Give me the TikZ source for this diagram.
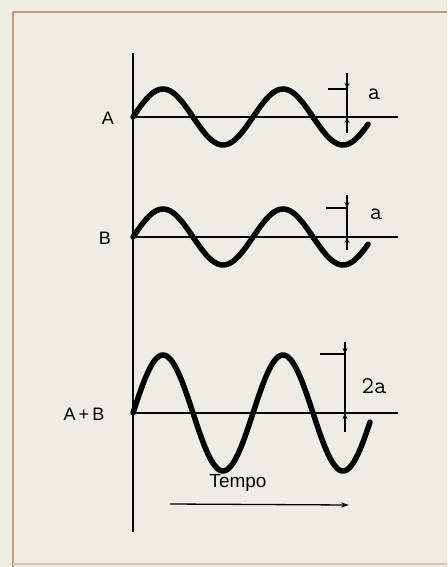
\documentclass[tikz,border=0pt]{standalone}
\usepackage{fontspec}
\setmainfont{Liberation Sans}
\usetikzlibrary{arrows.meta}
\definecolor{paper}{RGB}{238,237,229}
\definecolor{frame}{RGB}{204,152,112}
\begin{document}
\begin{tikzpicture}
        [x=1pt,y=-1pt,
        wave/.style={line width=5.5pt,line cap=round},
        axis/.style={line width=1.5pt},
        dimline/.style={line width=1.3pt},
        dimtip/.style={-{Stealth[length=6pt,width=5pt]},line width=1.3pt},
        every node/.style={inner sep=0pt},
        lbl/.style={font=\fontsize{18}{18}\selectfont},
        dimlbl/.style={font=\ttfamily\fontsize{24}{24}\selectfont}]
        \fill[paper] (0,0) rectangle (447,567);
        \useasboundingbox (0,0) rectangle (447,567);
        % frame
        \draw[frame,line width=2.5pt] (447,12) -- (13,12) -- (13,567);
        \draw[frame!60,line width=1.2pt] (13,564) -- (447,564);
        % vertical axis
        \coordinate (top) at (133,53);
        \coordinate (bot) at (133,532);
        \draw[axis] (top) -- (bot);
        % baselines
        \coordinate (a0) at (133,117);
        \coordinate (a1) at (398,117);
        \coordinate (b0) at (133,237);
        \coordinate (b1) at (398,237);
        \coordinate (s0) at (133,413);
        \coordinate (s1) at (398,413);
        \draw[axis] (a0) -- (a1);
        \draw[axis] (b0) -- (b1);
        \draw[axis] (s0) -- (s1);
        % waves
        \draw[wave] plot[domain=133:368,samples=120] (\x,{117-28*sin(3*(\x-133))});
        \draw[wave] plot[domain=133:368,samples=120] (\x,{237-28*sin(3*(\x-133))});
        \draw[wave] plot[domain=133:370,samples=120] (\x,{413-58*sin(3*(\x-133))});
        % labels
        \node[lbl] (la) at (108,118) {A};
        \node[lbl] (lb) at (105,238) {B};
        \node[lbl] (ls) at (84,414) {A\,+\,B};
        % amplitude A
        \coordinate (da0) at (347,73);
        \coordinate (da1) at (347,89);
        \coordinate (da2) at (347,117);
        \coordinate (da3) at (347,133);
        \coordinate (ta) at (328,89);
        \draw[dimline] (da0) -- (da3);
        \draw[dimline] (ta) -- (da1);
        \draw[dimtip] (da0) -- (da1);
        \draw[dimtip] (da3) -- (da2);
        \node[dimlbl] (na) at (374,94) {a};
        % amplitude B
        \coordinate (db0) at (347,195);
        \coordinate (db1) at (347,208);
        \coordinate (db2) at (347,237);
        \coordinate (db3) at (347,250);
        \coordinate (tb) at (326,208);
        \draw[dimline] (db0) -- (db3);
        \draw[dimline] (tb) -- (db1);
        \draw[dimtip] (db0) -- (db1);
        \draw[dimtip] (db3) -- (db2);
        \node[dimlbl] (nb) at (376,214) {a};
        % amplitude A+B
        \coordinate (ds0) at (345,342);
        \coordinate (ds1) at (345,354);
        \coordinate (ds2) at (345,413);
        \coordinate (ds3) at (345,432);
        \coordinate (ts) at (320,354);
        \draw[dimline] (ds0) -- (ds3);
        \draw[dimline] (ts) -- (ds1);
        \draw[dimtip] (ds0) -- (ds1);
        \draw[dimtip] (ds3) -- (ds2);
        \node[dimlbl] (ns) at (374,386) {2a};
        % time
        \node[font=\fontsize{19}{19}\selectfont] (tempo) at (238,483) {Tempo};
        \coordinate (t0) at (170,504);
        \coordinate (t1) at (349,505);
        \draw[-{Stealth[length=8pt,width=5pt]},line width=1.3pt] (t0) -- (t1);
\end{tikzpicture}
\end{document}
